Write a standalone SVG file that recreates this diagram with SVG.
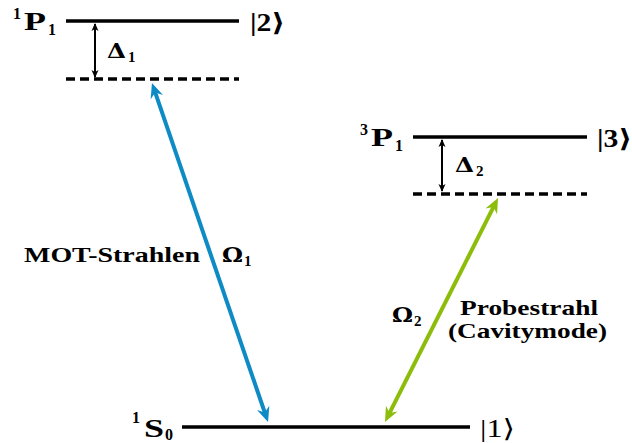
<svg xmlns="http://www.w3.org/2000/svg" width="632" height="443" viewBox="0 0 632 443">
<style>
text{font-family:"Liberation Serif","DejaVu Serif",serif;font-weight:bold;fill:#000}
.lvl{stroke:#000;stroke-width:3.5;fill:none}
.virt{stroke:#000;stroke-width:3.5;fill:none;stroke-dasharray:9 5}
.det{stroke:#000;stroke-width:2;fill:none}
.big{font-size:25px}
.sm{font-size:16px}
.lab{font-size:22px}
.gr{font-size:21px;font-family:"DejaVu Serif","Liberation Serif",serif}
.gs{font-size:15px}
</style>
<defs>
<marker id="ab" markerUnits="userSpaceOnUse" viewBox="-16 -8 20 16" markerWidth="20" markerHeight="16" refX="-6" refY="0" orient="auto-start-reverse">
<path d="M0,0 L-15,-6.5 L-10,0 L-15,6.5 Z" fill="#0e8ac5"/>
</marker>
<marker id="ag" markerUnits="userSpaceOnUse" viewBox="-16 -8 20 16" markerWidth="20" markerHeight="16" refX="-6" refY="0" orient="auto-start-reverse">
<path d="M0,0 L-15,-6.5 L-10,0 L-15,6.5 Z" fill="#8cbd0a"/>
</marker>
<marker id="ak" markerUnits="userSpaceOnUse" viewBox="-9 -5 11 10" markerWidth="11" markerHeight="10" refX="-1" refY="0" orient="auto-start-reverse">
<path d="M0,0 L-8,-3.5 L-6,0 L-8,3.5 Z" fill="#000"/>
</marker>
</defs>

<g id="level2">
<line class="lvl" x1="66" y1="21" x2="239" y2="21"/>
<line class="virt" x1="66" y1="79" x2="239" y2="79"/>
<text class="sm" x="13" y="19">1</text>
<text class="big" x="24" y="30" textLength="22" lengthAdjust="spacingAndGlyphs">P</text>
<text class="sm" x="48" y="35">1</text>
<text class="big" x="250" y="31" textLength="35" lengthAdjust="spacingAndGlyphs">|2⟩</text>
</g>

<g id="level3">
<line class="lvl" x1="413" y1="137" x2="587" y2="137"/>
<line class="virt" x1="413" y1="194" x2="587" y2="194"/>
<text class="sm" x="360" y="135">3</text>
<text class="big" x="371" y="146" textLength="22" lengthAdjust="spacingAndGlyphs">P</text>
<text class="sm" x="395" y="151">1</text>
<text class="big" x="597" y="147" textLength="35" lengthAdjust="spacingAndGlyphs">|3⟩</text>
</g>

<g id="level1">
<line class="lvl" x1="182" y1="427" x2="470" y2="427"/>
<text class="sm" x="132" y="423">1</text>
<text class="big" x="144" y="437" textLength="20" lengthAdjust="spacingAndGlyphs">S</text>
<text class="sm" x="165" y="440">0</text>
<text class="big" x="480" y="437" textLength="35" lengthAdjust="spacingAndGlyphs" style="font-weight:normal">|1⟩</text>
</g>

<g id="connectors">
<line class="det" x1="95" y1="24" x2="95" y2="77" marker-start="url(#ak)" marker-end="url(#ak)"/>
<line class="det" x1="442" y1="140" x2="442" y2="191" marker-start="url(#ak)" marker-end="url(#ak)"/>
<line x1="153.9" y1="88.7" x2="266.1" y2="416.3" stroke="#0e8ac5" stroke-width="4" marker-start="url(#ab)" marker-end="url(#ab)"/>
<line x1="495.3" y1="203.4" x2="387.7" y2="416.6" stroke="#8cbd0a" stroke-width="4" marker-start="url(#ag)" marker-end="url(#ag)"/>
</g>

<g id="labels">
<text class="gr" x="107" y="58" textLength="19" lengthAdjust="spacingAndGlyphs">Δ</text>
<text class="gs" x="128" y="62">1</text>
<text class="gr" x="455" y="172" textLength="19" lengthAdjust="spacingAndGlyphs">Δ</text>
<text class="gs" x="476" y="176">2</text>
<text class="lab" x="24" y="262" textLength="176" lengthAdjust="spacingAndGlyphs">MOT-Strahlen</text>
<text class="gr" x="222" y="262" textLength="21" lengthAdjust="spacingAndGlyphs">Ω</text>
<text class="gs" x="244" y="266">1</text>
<text class="gr" x="392" y="322" textLength="21" lengthAdjust="spacingAndGlyphs">Ω</text>
<text class="gs" x="414" y="326">2</text>
<text class="lab" x="460" y="315" textLength="138" lengthAdjust="spacingAndGlyphs">Probestrahl</text>
<text class="lab" x="448" y="338" textLength="159" lengthAdjust="spacingAndGlyphs">(Cavitymode)</text>
</g>
</svg>
